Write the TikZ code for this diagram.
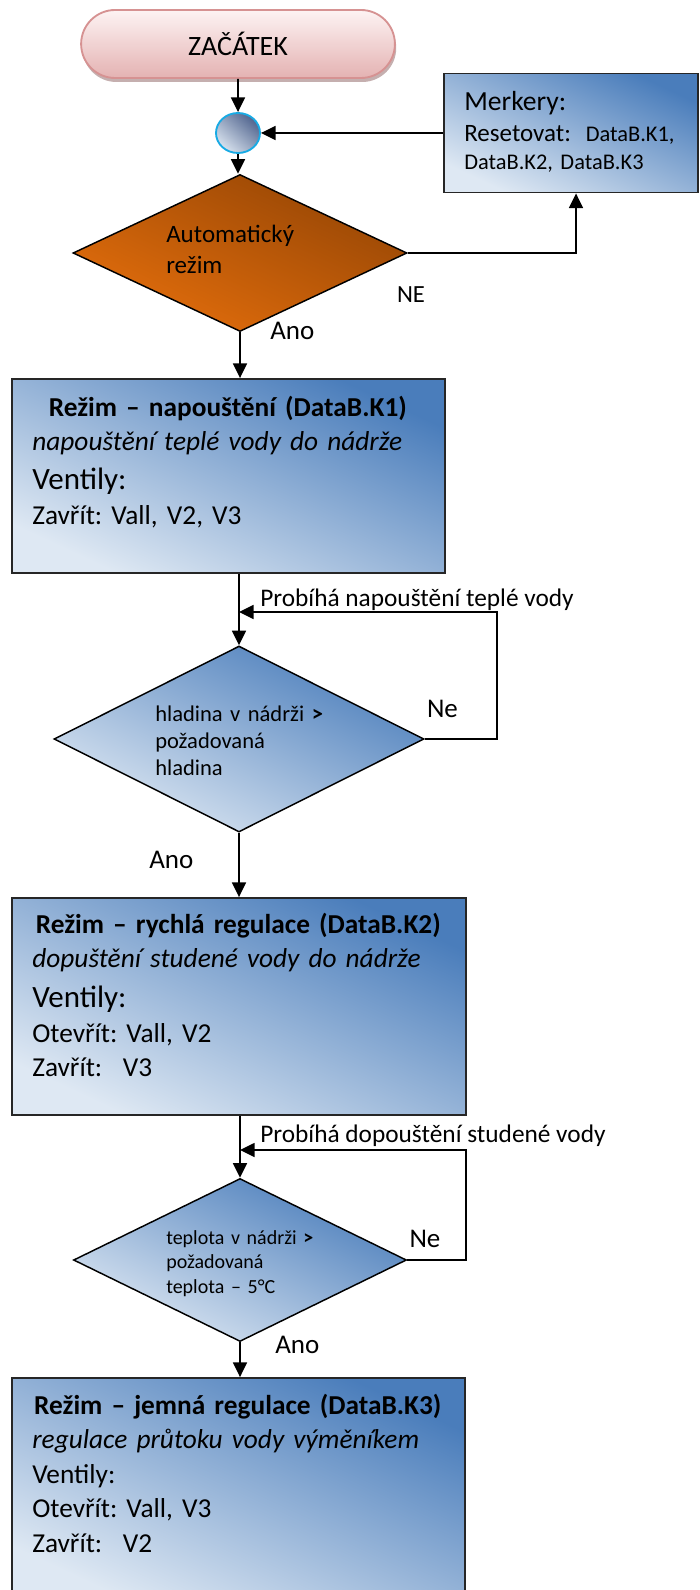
\documentclass[tikz,border=0pt]{standalone}
\usepackage{fontspec}
\setmainfont{Carlito}
\usepackage{tikz}
\usetikzlibrary{shapes.geometric,shapes.misc,arrows.meta,shadows}
\frenchspacing

\definecolor{boxdark}{RGB}{74,125,187}
\definecolor{boxlight}{RGB}{222,232,243}
\definecolor{autodark}{RGB}{150,70,5}
\definecolor{autolight}{RGB}{228,110,12}
\definecolor{starttop}{RGB}{253,243,243}
\definecolor{startbottom}{RGB}{228,178,178}
\definecolor{startline}{RGB}{214,146,146}
\definecolor{joindark}{RGB}{80,100,142}
\definecolor{joinlight}{RGB}{216,226,238}
\definecolor{joinline}{RGB}{24,170,228}

\tikzset{
  conn/.style={line width=1.2pt,-{Triangle[length=11pt,width=10.5pt]}},
  startbox/.style={rounded rectangle,draw=startline,line width=1.4pt,top color=starttop,bottom color=startbottom,
    minimum width=242pt,minimum height=51pt,font=\fontsize{21}{25}\selectfont,
    drop shadow={shadow xshift=1pt,shadow yshift=-3pt,fill=black!35!startline}},
  joint/.style={ellipse,draw=joinline,line width=1.4pt,top color=joindark,bottom color=joinlight,shading angle=-42,
    minimum width=33pt,minimum height=30pt,inner sep=0pt},
  decision/.style={diamond,draw=black,line width=1.1pt,inner sep=0pt,top color=boxdark,bottom color=boxlight,shading angle=-26},
  modebox/.style={rectangle,draw=black!85,line width=1.4pt,top color=boxdark,bottom color=boxlight,shading angle=-25,inner sep=0pt},
  boxtext/.style={anchor=base west,inner sep=0pt,align=left,font=\fontsize{20.5}{25.9}\selectfont},
  dtext/.style={anchor=base west,inner sep=0pt,align=left,text width=150pt},
  lbl/.style={anchor=base west,inner sep=0pt,font=\fontsize{19}{23}\selectfont},
  answer/.style={anchor=base west,inner sep=0pt,font=\fontsize{20.25}{24}\selectfont}
}

\begin{document}
\begin{tikzpicture}[x=0.75pt,y=0.75pt,yscale=-1,xscale=1]
\useasboundingbox (0,0) rectangle (699,1590);

%Shape: Terminal
\node [startbox] (start) at (238,44) {ZAČÁTEK};
%Shape: Connector
\node [joint] (join) at (238,133) {};
%Shape: Diamond
\node [decision,top color=autodark,bottom color=autolight,shading angle=-25,minimum width=250.5pt,minimum height=117.75pt] (auto) at (240,253) {};
%Shape: Rectangle
\node [modebox,minimum width=190.5pt,minimum height=89.25pt] (merk) at (571,133) {};
%Shape: Rectangle
\node [modebox,minimum width=324.75pt,minimum height=145.5pt] (b1) at (228.5,476) {};
%Shape: Diamond
\node [decision,minimum width=277.5pt,minimum height=139.5pt] (d2) at (239,739) {};
%Shape: Rectangle
\node [modebox,minimum width=340.5pt,minimum height=162.75pt] (b2) at (239,1006.5) {};
%Shape: Diamond
\node [decision,minimum width=249.75pt,minimum height=122.25pt] (d3) at (240,1260) {};
%Shape: Rectangle
\node [modebox,minimum width=339.75pt,minimum height=166.5pt] (b3) at (238.5,1489) {};

\coordinate (j1) at (239,612);
\coordinate (j2) at (240,1150);

%Connectors
\draw [conn] (start) -- (join);
\draw [conn] (join) -- (join |- auto.north);
\draw [conn] (auto.east) -| ([xshift=3.75pt]merk.south);
\draw [conn] (merk.west) -- (join.east);
\draw [conn] (auto.south) -- (auto.south |- b1.north);
\draw [conn] (d2.north |- b1.south) -- (d2.north);
\draw [conn] (d2.east) -- ++(72,0) |- (j1);
\draw [conn] (d2.south) -- (d2.south |- b2.north);
\draw [conn] (d3.north |- b2.south) -- (d3.north);
\draw [conn] (d3.east) -- ++(59,0) |- (j2);
\draw [conn] (d3.south) -- (d3.south |- b3.north);

% Text Node
\node [boxtext,font=\fontsize{16.8}{21.5}\selectfont,text width=172pt] (merktxt) at ([shift={(21,37.5)}]merk.north west)
  {{\fontsize{20.7}{21.5}\selectfont Merkery:}\\[1.9pt]
   {\fontsize{18.75}{21.5}\selectfont Resetovat:\ \ }DataB.K1,\\
   DataB.K2, DataB.K3};
% Text Node
\node [dtext,font=\fontsize{18.75}{23.25}\selectfont] (autotxt) at ([shift={(-74,-10)}]auto.center)
  {Automatický\\režim};
% Text Node
\node [boxtext,text width=293.25pt] (b1txt) at ([shift={(21,38)}]b1.north west)
  {\makebox[\hsize]{\bfseries Režim – napouštění (DataB.K1)}\\
   \textit{napouštění teplé vody do nádrže}\\[3.4pt]
   {\fontsize{23.25}{25.9}\selectfont Ventily:}\\
   Zavřít: Vall, V2, V3};
% Text Node
\node [dtext,font=\fontsize{16.9}{20.25}\selectfont] (d2txt) at ([shift={(-84,-18)}]d2.center)
  {hladina v nádrži \textbf{>}\\požadovaná\\hladina};
% Text Node
\node [boxtext,text width=309pt] (b2txt) at ([shift={(21,36)}]b2.north west)
  {\makebox[\hsize]{\bfseries Režim – rychlá regulace (DataB.K2)}\\
   \textit{dopuštění studené vody do nádrže}\\[4pt]
   {\fontsize{23.25}{25.9}\selectfont Ventily:}\\
   Otevřít: Vall, V2\\
   Zavřít:\hspace{15.5pt}V3};
% Text Node
\node [dtext,font=\fontsize{15}{18.4}\selectfont] (d3txt) at ([shift={(-74,-16)}]d3.center)
  {teplota v nádrži \textbf{>}\\požadovaná\\teplota – 5°C};
% Text Node
\node [boxtext,text width=308.25pt] (b3txt) at ([shift={(21,37)}]b3.north west)
  {\makebox[\hsize]{\bfseries Režim – jemná regulace (DataB.K3)}\\
   \textit{regulace průtoku vody výměníkem}\\
   Ventily:\\
   Otevřít: Vall, V3\\
   Zavřít:\hspace{15.5pt}V2};

% Text Node
\node [lbl,font=\fontsize{18.5}{22}\selectfont] (ne0) at ([shift={(-11,50)}]auto.east) {NE};
% Text Node
\node [answer] (ano1) at ([shift={(30,7)}]auto.south) {Ano};
% Text Node
\node [lbl] (loop1) at ([shift={(21,-6)}]j1) {Probíhá napouštění teplé vody};
% Text Node
\node [answer] (ne1) at ([shift={(2,-22)}]d2.east) {Ne};
% Text Node
\node [answer] (ano2) at ([shift={(-90,36)}]d2.south) {Ano};
% Text Node
\node [lbl] (loop2) at ([shift={(20,-7.6)}]j2) {Probíhá dopouštění studené vody};
% Text Node
\node [answer] (ne2) at ([shift={(2,-13)}]d3.east) {Ne};
% Text Node
\node [answer] (ano3) at ([shift={(35,11)}]d3.south) {Ano};

\end{tikzpicture}
\end{document}
